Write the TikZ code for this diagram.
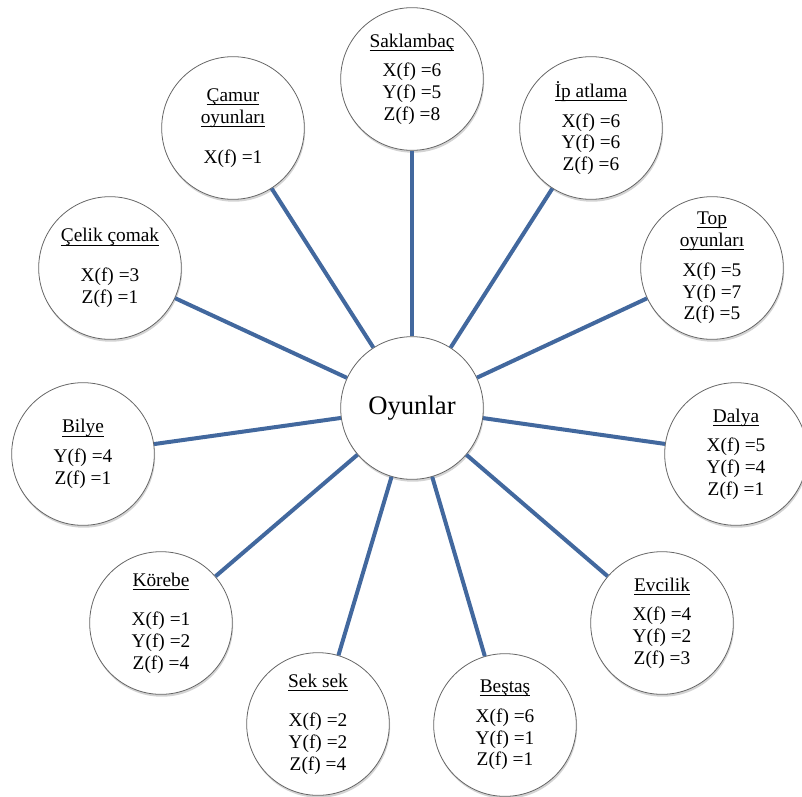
\documentclass[tikz,border=0pt]{standalone}
\usepackage{fontspec}
\setmainfont{Liberation Serif}
\usepackage{xcolor}
\usetikzlibrary{shadows}
\definecolor{linkblue}{RGB}{66,104,158}
\newsavebox\gtbox
\newcommand{\gtitle}[1]{\sbox\gtbox{#1}\rlap{\rule[-2.6pt]{\wd\gtbox}{0.6pt}}\usebox\gtbox}
\tikzset{game/.style={circle,draw=black!60,line width=0.6pt,fill=white,minimum size=107pt,inner sep=0pt,align=center,font=\fontsize{14.5}{16.3}\selectfont,drop shadow={opacity=0.35,shadow xshift=0.6pt,shadow yshift=-1.8pt}}}
\tikzset{link/.style={draw=linkblue,line width=3pt,line cap=butt}}

\begin{document}
\begin{tikzpicture}[line cap=round,line join=round,x=0.75pt,y=-0.75pt]
	\useasboundingbox (0,0) rectangle (802,796);
	\node[game,font=\fontsize{20}{24}\selectfont] (oyun) at (412,408) {Oyunlar};
	\node[game] (sak) at (412,79) {\gtitle{Saklambaç}\\[6pt] X(f) =6\\ Y(f) =5\\ Z(f) =8};
	\node[game] (ip) at (591,128) {\gtitle{İp atlama}\\[6pt] X(f) =6\\ Y(f) =6\\ Z(f) =6};
	\node[game] (top) at (712,268) {\gtitle{Top}\\ \gtitle{oyunları}\\[6pt] X(f) =5\\ Y(f) =7\\ Z(f) =5};
	\node[game] (dal) at (736,454) {\gtitle{Dalya}\\[6pt] X(f) =5\\ Y(f) =4\\ Z(f) =1};
	\node[game] (evc) at (662,623) {\gtitle{Evcilik}\\[6pt] X(f) =4\\ Y(f) =2\\ Z(f) =3};
	\node[game] (bes) at (505,725) {\gtitle{Beştaş}\\[6pt] X(f) =6\\ Y(f) =1\\ Z(f) =1};
	\node[game] (sek) at (318,724) {\gtitle{Sek sek}\\[13.5pt] X(f) =2\\ Y(f) =2\\ Z(f) =4};
	\node[game] (kor) at (161,623) {\gtitle{Körebe}\\[13.5pt] X(f) =1\\ Y(f) =2\\ Z(f) =4};
	\node[game] (bil) at (83,454) {\gtitle{Bilye}\\[6pt] Y(f) =4\\ Z(f) =1};
	\node[game] (cel) at (110,268) {\gtitle{Çelik çomak}\\[13.5pt] X(f) =3\\ Z(f) =1};
	\node[game] (cam) at (233,128) {\gtitle{Çamur}\\ \gtitle{oyunları}\\[13.5pt] X(f) =1};
	\foreach \g in {sak,ip,top,dal,evc,bes,sek,kor,bil,cel,cam}
	\draw[link] (oyun) -- (\g);
\end{tikzpicture}
\end{document}
